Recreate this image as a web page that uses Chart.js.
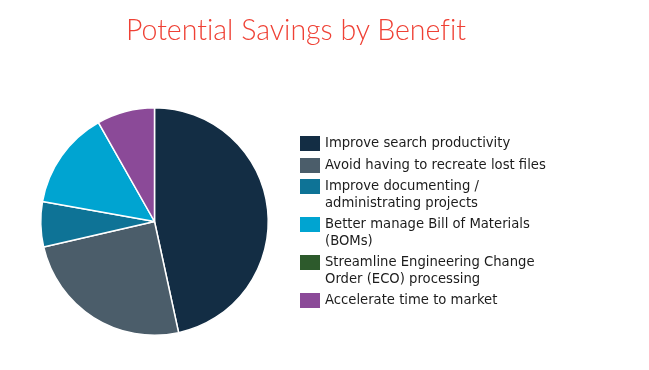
<!DOCTYPE html>
<html lang="en">
<head>
    <meta charset="UTF-8">
    <title>Potential Savings by Benefit</title>
    <script src="https://cdn.jsdelivr.net/npm/chart.js@4/dist/chart.umd.min.js"></script>
</head>
<style>
    body {
        margin: 0;
        background-color: #ffffff;
    }

    .wrap {
        position: relative;
        width: 649px;
        height: 370px;
    }

    #savingsChart {
        position: absolute;
        left: 0;
        top: 0;
    }

    .title {
        position: absolute;
        left: 0;
        top: 12px;
        width: 592px;
        text-align: center;
        font-family: 'Lato', sans-serif;
        font-weight: 300;
        font-size: 28.5px;
        font-variant-ligatures: none;
        color: #ef4135;
    }

    .legend {
        position: absolute;
        left: 300px;
        top: 135px;
        font-family: 'DejaVu Sans', sans-serif;
        font-size: 13.2px;
        color: #1c1c1c;
    }

    .legend .item {
        display: flex;
        align-items: flex-start;
        margin-bottom: 5px;
        line-height: 16.5px;
    }

    .legend .box {
        width: 20px;
        height: 15px;
        margin-right: 5px;
        margin-top: 1px;
        flex: none;
    }
</style>
<body>
    <div class="wrap">
        <canvas id="savingsChart" width="649" height="370"></canvas>
        <div class="title">Potential Savings by Benefit</div>
        <div class="legend" id="legend"></div>
    </div>

    <script>
        // benefits, in drawing order (clockwise from 12 o'clock)
        const benefits = [
            ['Improve search productivity'],
            ['Avoid having to recreate lost files'],
            ['Improve documenting /', 'administrating projects'],
            ['Better manage Bill of Materials', '(BOMs)'],
            ['Streamline Engineering Change', 'Order (ECO) processing'],
            ['Accelerate time to market']
        ];
        // share of savings, percent
        const savings = [46.6, 24.8, 6.4, 14.0, 0, 8.2];
        const colors = ['#132d44', '#4b5d6a', '#0e7396', '#00a4d1', '#2d5a2c', '#8b4a98'];

        const ctx = document.getElementById('savingsChart').getContext('2d');

        new Chart(ctx, {
            type: 'pie',
            data: {
                labels: benefits.map(b => b.join(' ')),
                datasets: [{
                    data: savings,
                    backgroundColor: colors,
                    borderColor: '#ffffff',
                    borderWidth: 1.5
                }]
            },
            options: {
                responsive: false,
                animation: false,
                layout: {
                    padding: { left: 40, right: 380, top: 107, bottom: 34 }
                },
                plugins: {
                    legend: { display: false },
                    tooltip: { enabled: false }
                }
            }
        });

        // legend with wrapped labels
        const legendDiv = document.getElementById('legend');
        benefits.forEach((lines, i) => {
            const item = document.createElement('div');
            item.className = 'item';
            item.innerHTML = '<span class="box" style="background:' + colors[i] + '"></span>' +
                '<span>' + lines.join('<br>') + '</span>';
            legendDiv.appendChild(item);
        });
    </script>
</body>
</html>
